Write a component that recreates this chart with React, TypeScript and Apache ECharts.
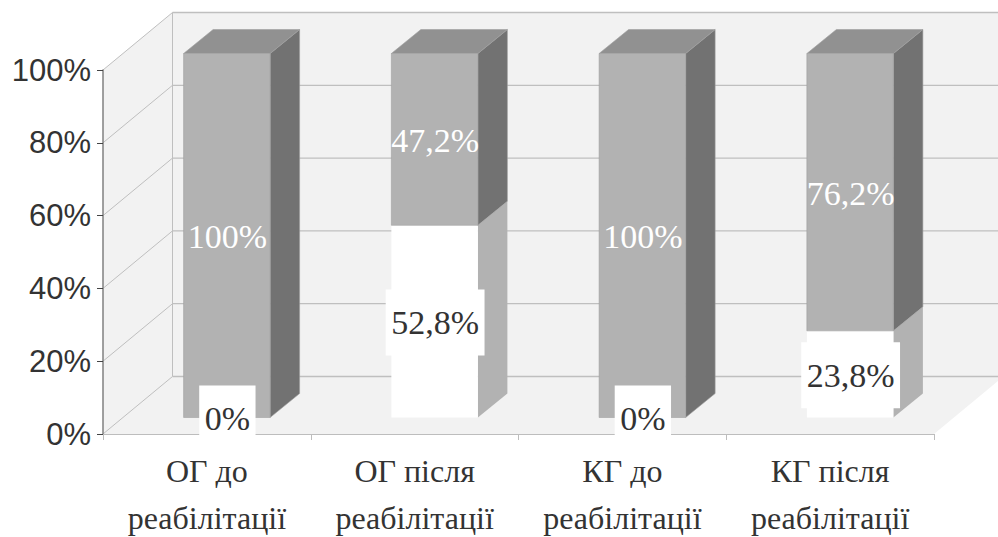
import React, { useEffect, useRef } from "react";
import * as echarts from "echarts";

const categories = [
  "ОГ до\nреабілітації",
  "ОГ після\nреабілітації",
  "КГ до\nреабілітації",
  "КГ після\nреабілітації",
];
const lowerValues = [0, 52.8, 0, 23.8];
const upperValues = [100, 47.2, 100, 76.2];
const valueTicks = [0, 20, 40, 60, 80, 100];

const SERIF = '"Liberation Serif", serif';
const SANS = '"Liberation Sans", sans-serif';
const INK = "#333333";

// Oblique projection used by the pseudo-3D box
const WALL_DX = 69.5;
const WALL_DY = -57.5;
const BAR_DX = 20;
const BAR_DY = -16.5;
const DEPTH_DX = 29.5;
const DEPTH_DY = -24;
const BAR_RATIO = 0.4165;

const percent = (v: number) => `${String(v).replace(".", ",")}%`;

const renderWalls = (params: any, api: any) => {
  const { x, width } = params.coordSys;
  const y0 = api.coord([0, 0])[1];
  const y100 = api.coord([0, 100])[1];
  const left = x;
  const right = x + width;
  const backL = left + WALL_DX;
  const backR = right + WALL_DX;
  const fill = { fill: "#f2f2f2", stroke: "none" };
  const children: any[] = [
    {
      type: "polygon",
      shape: { points: [[left, y0], [backL, y0 + WALL_DY], [backL, y100 + WALL_DY], [left, y100]] },
      style: fill,
    },
    {
      type: "rect",
      shape: { x: backL, y: y100 + WALL_DY, width: backR - backL, height: y0 - y100 },
      style: fill,
    },
    {
      type: "polygon",
      shape: { points: [[left, y0], [backL, y0 + WALL_DY], [backR, y0 + WALL_DY], [right, y0]] },
      style: fill,
    },
  ];
  const line = { stroke: "#bfbfbf", lineWidth: 1 };
  valueTicks.forEach((v) => {
    const y = api.coord([0, v])[1];
    children.push(
      { type: "line", shape: { x1: left, y1: y, x2: backL, y2: y + WALL_DY }, style: line },
      { type: "line", shape: { x1: backL, y1: y + WALL_DY, x2: backR, y2: y + WALL_DY }, style: { ...line, lineWidth: 1.3 } }
    );
  });
  children.push({
    type: "line",
    shape: { x1: backL, y1: y100 + WALL_DY, x2: backL, y2: y0 + WALL_DY },
    style: line,
  });
  return { type: "group", children };
};

const makeBoxRenderer =
  (front: string, top: string, side: string, edge: string) => (_params: any, api: any) => {
    const idx = api.value(0);
    const [cx, yA] = api.coord([idx, api.value(1)]);
    const [, yB] = api.coord([idx, api.value(2)]);
    const w = api.size([1, 0])[0] * BAR_RATIO;
    const x1 = cx + BAR_DX - w / 2;
    const x2 = x1 + w;
    const bottom = yA + BAR_DY;
    const upper = yB + BAR_DY;
    const style = (fill: string) => ({ fill, stroke: edge, lineWidth: 0.6 });
    return {
      type: "group",
      children: [
        {
          type: "polygon",
          shape: {
            points: [
              [x2, bottom],
              [x2 + DEPTH_DX, bottom + DEPTH_DY],
              [x2 + DEPTH_DX, upper + DEPTH_DY],
              [x2, upper],
            ],
          },
          style: style(side),
        },
        {
          type: "polygon",
          shape: {
            points: [
              [x1, upper],
              [x1 + DEPTH_DX, upper + DEPTH_DY],
              [x2 + DEPTH_DX, upper + DEPTH_DY],
              [x2, upper],
            ],
          },
          style: style(top),
        },
        {
          type: "rect",
          shape: { x: x1, y: upper, width: w, height: bottom - upper },
          style: style(front),
        },
      ],
    };
  };

const makeLabelRenderer = (fill: string, boxed: boolean) => (_params: any, api: any) => {
  const idx = api.value(0);
  const from = api.value(1);
  const to = api.value(2);
  const [cx, y] = api.coord([idx, (from + to) / 2]);
  return {
    type: "text",
    style: {
      x: cx + BAR_DX + 0.5,
      y: y + BAR_DY + 1,
      text: percent(to - from === 0 ? 0 : Math.round((to - from) * 10) / 10),
      fill,
      fontFamily: SERIF,
      fontSize: 34,
      align: "center",
      verticalAlign: "middle",
      ...(boxed ? { backgroundColor: "#ffffff", padding: [16, 5.5, 16, 5.5] } : {}),
    },
  };
};

export default function App() {
  const ref = useRef<HTMLDivElement>(null);

  useEffect(() => {
    if (!ref.current) return;
    const chart = echarts.init(ref.current, undefined, { renderer: "svg" });
    const lowerData = lowerValues.map((v, i) => [i, 0, v]);
    const upperData = upperValues.map((v, i) => [i, lowerValues[i], lowerValues[i] + v]);
    const encode = { x: 0, y: [1, 2] };
    const custom = { type: "custom", silent: true, clip: false, encode };

    chart.setOption({
      animation: false,
      backgroundColor: "#ffffff",
      grid: { left: 103, right: 64, top: 70, bottom: 103, outerBoundsMode: "none" },
      xAxis: {
        type: "category",
        data: categories,
        z: 3,
        axisLine: { lineStyle: { color: "#bdbdbd", width: 1 } },
        axisTick: { show: true, length: 6, lineStyle: { color: "#bdbdbd" } },
        axisLabel: {
          interval: 0,
          margin: 13,
          color: INK,
          fontFamily: SERIF,
          fontSize: 32,
          lineHeight: 47,
        },
        splitLine: { show: false },
      },
      yAxis: {
        type: "value",
        min: 0,
        max: 100,
        interval: 20,
        z: 3,
        axisLine: { show: true, lineStyle: { color: "#808080", width: 1.5 } },
        axisTick: { show: true, length: 6, lineStyle: { color: "#444444" } },
        axisLabel: {
          margin: 12,
          color: INK,
          fontFamily: SANS,
          fontSize: 31,
          formatter: "{value}%",
        },
        splitLine: { show: false },
      },
      series: [
        { ...custom, z: 1, data: [[0, 0, 100]], renderItem: renderWalls },
        {
          ...custom,
          z: 2,
          data: lowerData,
          renderItem: makeBoxRenderer("#ffffff", "#ffffff", "#b2b2b2", "transparent"),
        },
        {
          ...custom,
          z: 2,
          data: upperData,
          renderItem: makeBoxRenderer("#b2b2b2", "#919191", "#727272", "#a0a0a0"),
        },
        { ...custom, z: 5, data: upperData, renderItem: makeLabelRenderer("#ffffff", false) },
        { ...custom, z: 5, data: lowerData, renderItem: makeLabelRenderer(INK, true) },
      ],
    });
    return () => chart.dispose();
  }, []);

  return <div ref={ref} style={{ position: "fixed", left: 0, top: 0, width: 998, height: 537 }} />;
}
